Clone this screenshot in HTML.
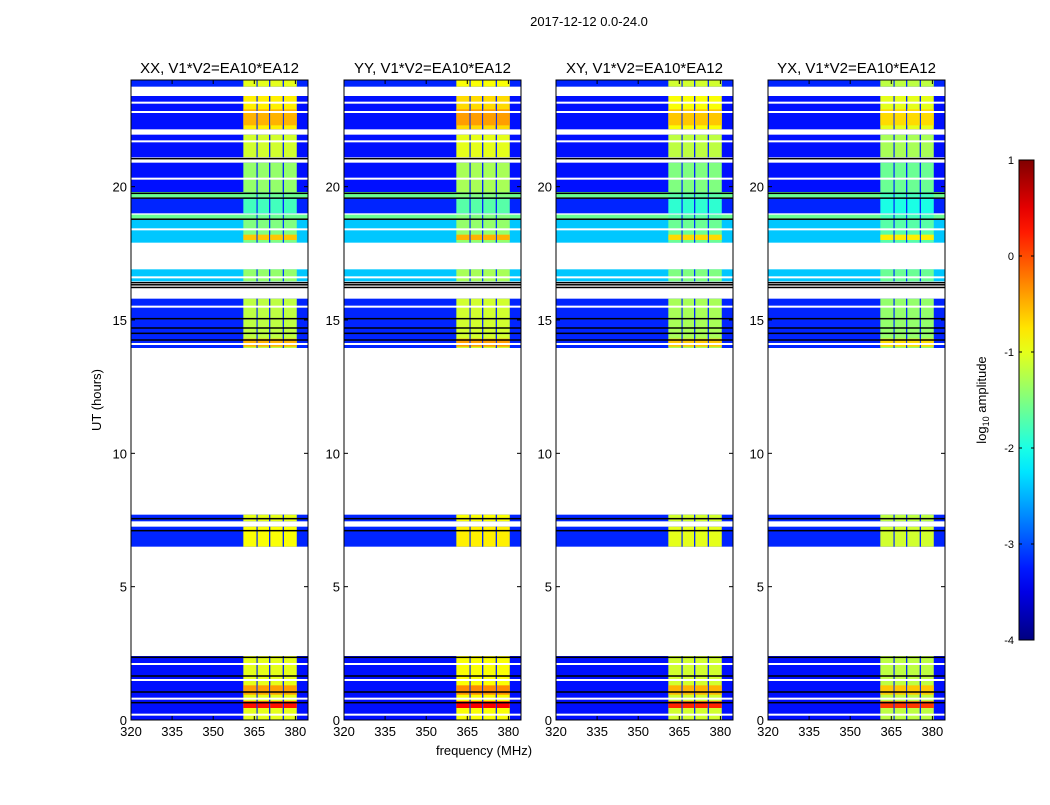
<!DOCTYPE html>
<html><head><meta charset="utf-8"><style>
body{margin:0;background:#fff;}
svg text{font-family:"Liberation Sans",sans-serif;fill:#000;}
</style></head><body>
<svg id="fig" width="1050" height="800" xmlns="http://www.w3.org/2000/svg">
<text x="589" y="26" font-size="13" text-anchor="middle">2017-12-12 0.0-24.0</text>
<text x="484" y="755" font-size="13" text-anchor="middle">frequency (MHz)</text>
<text x="101" y="400" font-size="13" text-anchor="middle" transform="rotate(-90 101 400)">UT (hours)</text>
<g id="cb"></g>
</svg>
<script>
const panelTitles = ["XX, V1*V2=EA10*EA12","YY, V1*V2=EA10*EA12","XY, V1*V2=EA10*EA12","YX, V1*V2=EA10*EA12"];
const panelLefts = [131,344,556,768];
const xTicks = [320,335,350,365,380];
const yTicks = [0,5,10,15,20];
const cbTicks = [1,0,-1,-2,-3,-4];
// segments: [startHour, endHour, backgroundLevel, bandLevel]
const segStart = [23.75,22.15,21.1,19.8,19.6,19.0,18.8,17.9,16.45,13.95,7.45,6.5,0.0];
const segEnd   = [24.0,23.4,21.95,20.9,19.8,19.55,18.95,18.75,16.9,15.8,7.7,7.25,2.4];
const segBg    = [-3.2,-3.3,-3.3,-3.3,-1.6,-3.2,-1.6,-2.4,-2.4,-3.2,-3.2,-3.2,-3.3];
const segBand  = [-1.0,-0.8,-1.1,-1.4,-1.6,-1.8,-1.6,-1.5,-1.4,-1.2,-1.0,-0.9,-1.0];
const panelBandOffset = [0,0.1,-0.1,-0.2];
const hotStart = [0.45,0.95,14.0,22.3,18.0];
const hotEnd   = [0.7,1.3,14.3,22.9,18.2];
const hotLevel = [0.3,-0.4,-0.5,-0.5,-0.6];
const whiteLines = [23.15,22.8,21.7,20.3,18.4,16.6,15.5,14.1,2.1,1.5,0.8,0.2,7.35];
const blackLines = [21.05,19.75,19.57,18.78,16.22,16.32,16.4,15.05,14.7,14.5,14.25,7.55,7.1,2.35,1.65,1.05,0.65];
const bandStarts = [361,366.2,370.8,375.8];
const bandEnds   = [365.8,370.4,375.4,380.5];

const NS="http://www.w3.org/2000/svg";
const svg=document.getElementById('fig');
const top0=80,bottom0=720,pw=177,fmin=320,fmax=384.6,hmax=24;
function jet(v){
  let t=(v+4)/5; t=Math.max(0,Math.min(1,t));
  const f=x=>Math.max(0,Math.min(1,x));
  const r=f(1.5-Math.abs(4*t-3)),g=f(1.5-Math.abs(4*t-2)),b=f(1.5-Math.abs(4*t-1));
  return `rgb(${Math.round(r*255)},${Math.round(g*255)},${Math.round(b*255)})`;
}
function yS(h){return bottom0-(h/hmax)*(bottom0-top0);}
function mk(tag,attrs,parent){const e=document.createElementNS(NS,tag);for(const k in attrs)e.setAttribute(k,attrs[k]);(parent||svg).appendChild(e);return e;}

panelLefts.forEach((L,pi)=>{
  const xS=f=>L+(f-fmin)/(fmax-fmin)*pw;
  const g=mk('g',{});
  
  
  for(let i=0;i<segStart.length;i++){
    const y1=yS(segEnd[i]),y2=yS(segStart[i]);
    const r=mk('rect',{x:L,y:y1,width:pw,height:y2-y1,fill:jet(segBg[i])},g);
    
    
    for(let b=0;b<bandStarts.length;b++){
      const br=mk('rect',{x:xS(bandStarts[b]),y:y1,width:xS(bandEnds[b])-xS(bandStarts[b]),height:y2-y1,fill:jet(segBand[i]+panelBandOffset[pi])},g);
      
      
    }
    for(let b=0;b<bandStarts.length-1;b++){
      const gr=mk('rect',{x:xS(bandEnds[b]),y:y1,width:xS(bandStarts[b+1])-xS(bandEnds[b]),height:y2-y1,fill:jet(-3.2)},g);
      
      
    }
  }
  for(let i=0;i<hotStart.length;i++){
    const y1=yS(hotEnd[i]),y2=yS(hotStart[i]);
    for(let b=0;b<bandStarts.length;b++){
      const hr=mk('rect',{x:xS(bandStarts[b]),y:y1,width:xS(bandEnds[b])-xS(bandStarts[b]),height:y2-y1,fill:jet(hotLevel[i]+panelBandOffset[pi])},g);
      
      
    }
  }
  whiteLines.forEach(h=>{const l=mk('rect',{x:L,y:yS(h)-1,width:pw,height:2,fill:'#fff'},g);
    
    });
  blackLines.forEach(h=>{const l=mk('rect',{x:L,y:yS(h)-0.75,width:pw,height:1.5,fill:'#000'},g);
    
    });
  const fr=mk('rect',{x:L,y:top0,width:pw,height:bottom0-top0,fill:'none',stroke:'#000','stroke-width':1},g);
  
  
  const t=mk('text',{x:L+pw/2,y:73,'font-size':15,'text-anchor':'middle'},g);
  t.textContent=panelTitles[pi];
  
  
  xTicks.forEach(v=>{const x=xS(v);
    mk('line',{x1:x,x2:x,y1:bottom0,y2:bottom0-4,stroke:'#000'},g);
    mk('line',{x1:x,x2:x,y1:top0,y2:top0+4,stroke:'#000'},g);
    const tx=mk('text',{x:x,y:bottom0+16,'font-size':13,'text-anchor':'middle'},g);
    tx.textContent=v;
    
    });
  yTicks.forEach(v=>{const y=yS(v);
    mk('line',{x1:L,x2:L+4,y1:y,y2:y,stroke:'#000'},g);
    mk('line',{x1:L+pw,x2:L+pw-4,y1:y,y2:y,stroke:'#000'},g);
    const ty=mk('text',{x:L-4,y:y+5,'font-size':13,'text-anchor':'end'},g);
    ty.textContent=v;
    
    });
});
const cb=document.getElementById('cb');
const cbx=1019,cbw=15,cbt=160,cbb=640;
const defs=mk('defs',{});
const lg=mk('linearGradient',{id:'jetg',x1:0,y1:1,x2:0,y2:0},defs);
for(let i=0;i<=20;i++){const v=-4+5*i/20;mk('stop',{offset:(i/20),'stop-color':jet(v)},lg);}
mk('rect',{x:cbx,y:cbt,width:cbw,height:cbb-cbt,fill:'url(#jetg)',stroke:'#000'},cb);
cbTicks.forEach(v=>{const y=cbb-(v+4)/5*(cbb-cbt);
  mk('line',{x1:cbx,x2:cbx+3,y1:y,y2:y,stroke:'#000'},cb);
  mk('line',{x1:cbx+cbw,x2:cbx+cbw-3,y1:y,y2:y,stroke:'#000'},cb);
  const t=mk('text',{x:cbx-5,y:y+4,'font-size':11,'text-anchor':'end'},cb);
  t.textContent=v;
  
  });
const cl=mk('text',{x:986,y:400,'font-size':13,'text-anchor':'middle',transform:'rotate(-90 986 400)'},cb);
cl.innerHTML='log<tspan font-size="9" dy="3">10</tspan><tspan dy="-3"> amplitude</tspan>';


</script>
</body></html>
